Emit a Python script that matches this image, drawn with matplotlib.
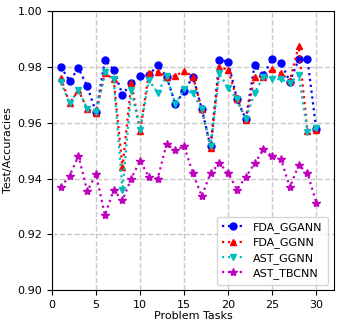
import numpy as np
import matplotlib
matplotlib.use('Agg')
import matplotlib.pyplot as plt

# Task indices
tasks = list(range(1, 31))

# Accuracies
fda_ggann = [0.980, 0.975, 0.9795, 0.973, 0.9637, 0.9824, 0.979, 0.970, 0.9743, 0.9768,
             0.977, 0.9807, 0.9765, 0.9667, 0.9713, 0.9765, 0.965, 0.9515, 0.9825, 0.9818,
             0.9684, 0.9613, 0.9807, 0.977, 0.983, 0.9815, 0.9747, 0.9827, 0.9827, 0.9577]
fda_ggnn = [0.976, 0.967, 0.9716, 0.9649, 0.9635, 0.9777, 0.9756, 0.944, 0.9742, 0.957,
            0.9779, 0.9783, 0.9765, 0.9768, 0.9786, 0.9765, 0.9649, 0.951, 0.980, 0.9789,
            0.9684, 0.9611, 0.9765, 0.9764, 0.9791, 0.9777, 0.975, 0.9875, 0.957, 0.9575]
ast_ggnn = [0.9745, 0.967, 0.9716, 0.965, 0.9637, 0.9783, 0.9756, 0.9358, 0.9716, 0.9573,
            0.9753, 0.9707, 0.9768, 0.9667, 0.972, 0.9705, 0.965, 0.9515, 0.9777, 0.9723,
            0.9684, 0.9613, 0.9707, 0.9765, 0.9756, 0.9756, 0.9742, 0.9771, 0.9568, 0.958]
ast_tbcnn = [0.937, 0.9409, 0.9482, 0.9355, 0.9415, 0.9269, 0.9358, 0.9322, 0.940, 0.9464,
             0.9406, 0.940, 0.9523, 0.9502, 0.9516, 0.9418, 0.9337, 0.942, 0.9454, 0.942,
             0.936, 0.9406, 0.9454, 0.9504, 0.948, 0.9469, 0.9368, 0.9448, 0.942, 0.9313]

plt.rcParams['font.family'] = 'DejaVu Sans'

fig = plt.figure(figsize=(3.4, 3.26), dpi=100)
ax = fig.add_axes([0.153, 0.110, 0.829, 0.856])

ax.plot(tasks, fda_ggann, 'b:o', lw=1.6, ms=5, label='FDA_GGANN')
ax.plot(tasks, fda_ggnn, 'r:^', lw=1.6, ms=5, label='FDA_GGNN')
ax.plot(tasks, ast_ggnn, 'c:v', lw=1.6, ms=5, label='AST_GGNN')
ax.plot(tasks, ast_tbcnn, 'm:*', lw=1.6, ms=6, label='AST_TBCNN')

ax.set_xlim(0, 32)
ax.set_ylim(0.90, 1.00)
ax.set_xticks([0, 5, 10, 15, 20, 25, 30])
ax.set_yticks([0.90, 0.92, 0.94, 0.96, 0.98, 1.00])
ax.set_yticklabels(['0.90', '0.92', '0.94', '0.96', '0.98', '1.00'])
ax.tick_params(labelsize=8)
ax.grid(True, linestyle='--', color='#c8c8c8', lw=1)
ax.set_axisbelow(True)

ax.set_xlabel('Problem Tasks', fontsize=8, labelpad=1)
ax.set_ylabel('Test/Accuracies', fontsize=8, labelpad=3)

ax.legend(loc='lower right', fontsize=8, handlelength=2, borderpad=0.5, labelspacing=0.4)

fig.savefig('out.png', dpi=100)
